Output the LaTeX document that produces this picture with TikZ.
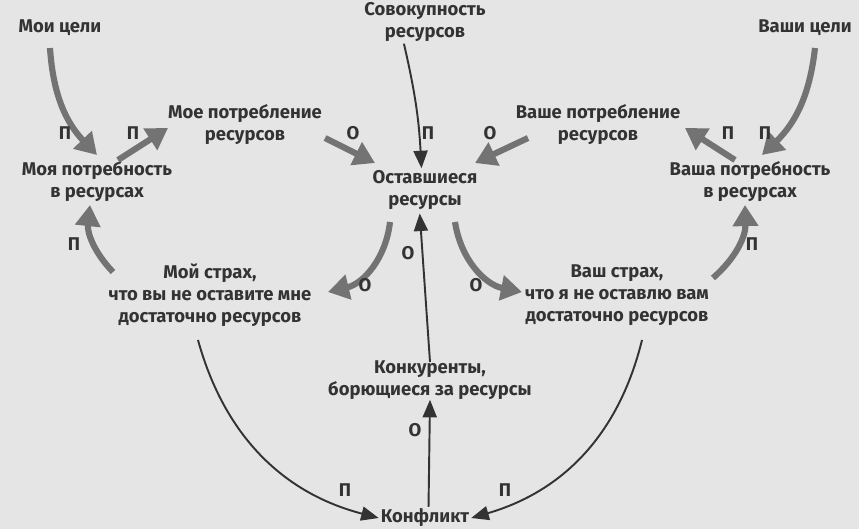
\documentclass[tikz,border=0pt]{standalone}
\usepackage{fontspec}
\setmainfont{Fira Sans}
\usetikzlibrary{arrows.meta}
\tikzset{
  lbl/.style={font=\fontsize{10.5}{12.5}\selectfont\bfseries, text=black!80, align=center, inner sep=1pt},
  sgn/.style={font=\fontsize{10.5}{12}\selectfont\bfseries, text=black!80, inner sep=0pt},
  fat/.style={draw=black!55, line width=3.5pt, -{Triangle[length=12pt,width=14pt]}},
  thin/.style={draw=black!80, line width=1.1pt, -{Triangle[length=10pt,width=8pt]}}
}
\begin{document}
\begin{tikzpicture}[x=0.02cm, y=-0.02cm]
    \fill [black!10] (0,0) rectangle (859,529);
    % nodes
    \node [lbl] (goalsMe) at (60,28) {Мои цели};
    \node [lbl] (total) at (425,22) {Совокупность\\ресурсов};
    \node [lbl] (goalsYou) at (805,28) {Ваши цели};
    \node [lbl] (needMe) at (97,182) {Моя потребность\\в ресурсах};
    \node [lbl] (consMe) at (245,125) {Мое потребление\\ресурсов};
    \node [lbl] (rest) at (425,190) {Оставшиеся\\ресурсы};
    \node [lbl] (consYou) at (598,125) {Ваше потребление\\ресурсов};
    \node [lbl] (needYou) at (750,182) {Ваша потребность\\в ресурсах};
    \node [lbl] (fearMe) at (210,295) {Мой страх,\\что вы не оставите мне\\достаточно ресурсов};
    \node [lbl] (fearYou) at (617,295) {Ваш страх,\\что я не оставлю вам\\достаточно ресурсов};
    \node [lbl] (comp) at (430,380) {Конкуренты,\\борющиеся за ресурсы};
    \node [lbl] (conflict) at (425,518) {Конфликт};
    % thick loop arrows
    \draw [fat] (50,48) to [bend right=20] (97,155);
    \draw [fat] (118,160) -- (168,128);
    \draw [fat] (325,138) -- (375,163);
    \draw [fat] (528,138) -- (475,163);
    \draw [fat] (735,160) -- (685,128);
    \draw [fat] (815,48) to [bend left=20] (762,155);
    \draw [fat] (390,222) to [bend left=35] (328,292);
    \draw [fat] (455,222) to [bend right=35] (522,292);
    \draw [fat] (113,272) to [bend left=25] (90,205);
    \draw [fat] (713,278) to [bend right=25] (745,205);
    % thin arrows
    \draw [thin] ([xshift=-12pt]total.south) to [bend left=5] ([xshift=-2pt]rest.north);
    \draw [thin] ([yshift=-2pt]comp.north) -- ([xshift=-3pt,yshift=-1pt]rest.south);
    \draw [thin] (198,340) to [bend right=30] (conflict.west);
    \draw [thin] (642,340) to [bend left=30] (conflict.east);
    \draw [thin] ([xshift=2pt]conflict.north) -- ([yshift=1pt]comp.south);
    % signs
    \node [sgn] at (65,133) {П};
    \node [sgn] at (133,133) {П};
    \node [sgn] at (353,133) {О};
    \node [sgn] at (428,133) {П};
    \node [sgn] at (490,133) {О};
    \node [sgn] at (728,133) {П};
    \node [sgn] at (765,133) {П};
    \node [sgn] at (74,244) {П};
    \node [sgn] at (752,244) {П};
    \node [sgn] at (408,253) {О};
    \node [sgn] at (365,285) {О};
    \node [sgn] at (476,285) {О};
    \node [sgn] at (415,430) {О};
    \node [sgn] at (345,490) {П};
    \node [sgn] at (505,490) {П};
\end{tikzpicture}
\end{document}
